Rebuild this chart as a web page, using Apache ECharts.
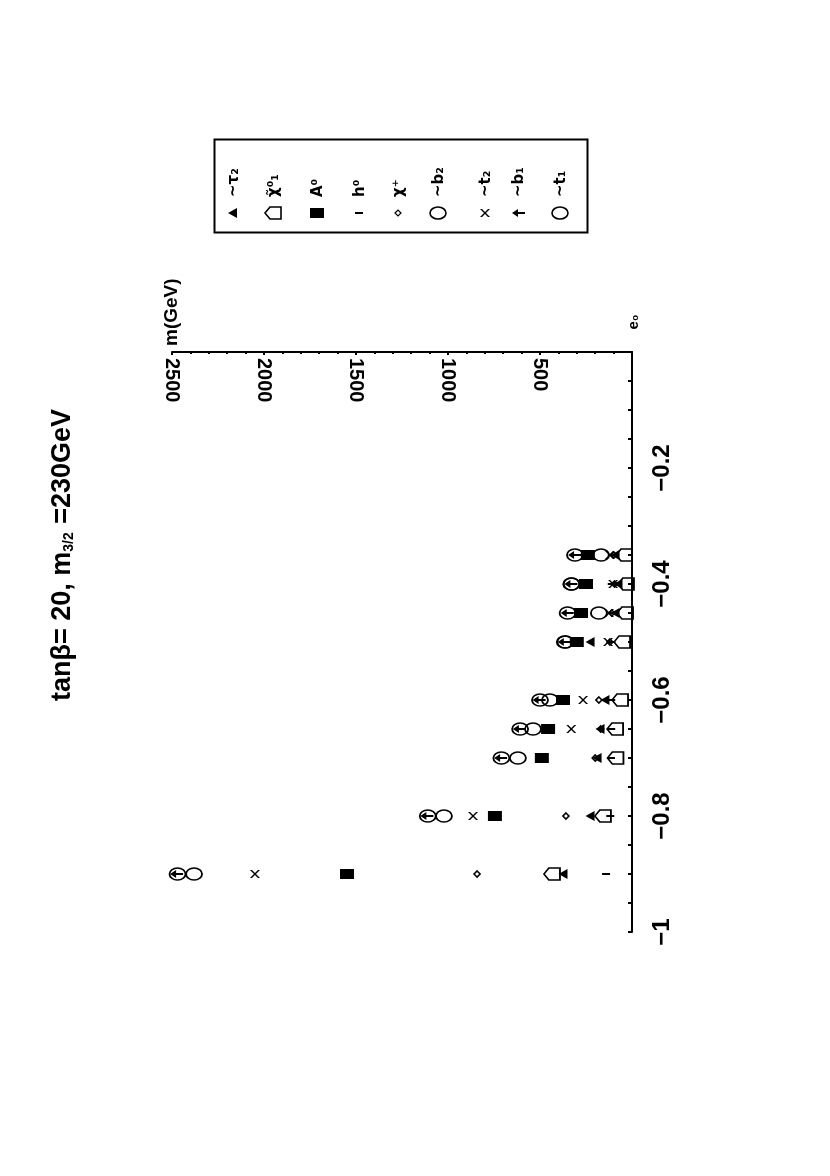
<!DOCTYPE html>
<html>
<head>
<meta charset="utf-8">
<script src="https://cdn.jsdelivr.net/npm/echarts@6/dist/echarts.min.js"></script>
<style>
html,body{margin:0;padding:0;background:#fff;}
#chart{width:830px;height:1176px;}
</style>
</head>
<body>
<div id="chart"></div>
<script>
// e0 values (vertical axis in the rotated picture)
const e0 = [-0.35, -0.40, -0.45, -0.50, -0.60, -0.65, -0.70, -0.80, -0.90];
// masses in GeV per species
const mSt1  = [310, 330, 350, 365, 500, 608, 710, 1110, 2470];
const mSb1  = [312, 332, 352, 368, 505, 612, 714, 1115, 2475];
const mSb2  = [168, 328, 180, 362, 446, 538, 620, 1022, 2380];
const mSt2  = [120, 103, 125, 130, 266, 330, 500, 864, 2049];
const mChp  = [100, 95, 110, 120, 180, 170, 200, 359, 842];
const mH0   = [110, 110, 111, 112, 113, 113, 114, 118, 141];
const mA0   = [240, 250, 277, 300, 375, 456, 490, 745, 1549];
const mChi0 = [43, 33, 38, 54, 65, 92, 90, 158, 435];
const mStau = [92, 76, 92, 228, 147, 174, 190, 228, 375];

const mTicks = [500, 1000, 1500, 2000, 2500];

// legend labels, in the order of the legend box (left to right in the picture)
const names = ['~\u03c4\u2082', '\u03c7\u0303\u2070\u2081', 'A\u2070', 'h\u2070', '\u03c7\u207a', '~b\u2082', '~t\u2082', '~b\u2081', '~t\u2081'];

const SYM = {
  stau: 'path://M0,5 L10,0 L10,10 Z',
  chi0: 'path://M0,6 L5,0 L16,0 L16,12 L5,12 Z',
  a0: 'rect',
  h0: 'rect',
  chp: 'diamond',
  sb2: 'circle',
  st2: 'path://M0,0 L2,0 L5,3 L8,0 L10,0 L6,4 L10,8 L8,8 L5,5 L2,8 L0,8 L4,4 Z',
  sb1: 'path://M0,4 L6,0 L6,3 L13,3 L13,5 L6,5 L6,8 Z',
  st1: 'circle'
};

function pts(arr){ return arr.map((m,i)=>[m, e0[i]]); }
function filled(name, data, sym, size){
  return {name, type:'scatter', data:pts(data), symbol:sym, symbolSize:size,
    itemStyle:{color:'#000', opacity:1}, z:3};
}
function open(name, data, sym, size){
  return {name, type:'scatter', data:pts(data), symbol:sym, symbolSize:size,
    itemStyle:{color:'rgba(0,0,0,0)', borderColor:'#000', borderWidth:1.6, opacity:1}, z:4};
}

const chart = echarts.init(document.getElementById('chart'), null, {renderer:'canvas'});
const FONT = "'Liberation Sans','Arial',sans-serif";

// legend drawn as graphics, rotated like the picture
const legendX = [233, 273, 317, 359, 398, 438, 485, 518, 560];
const legendSym = [
  {type:'polygon', shape:{points:[[-5,0],[4,-5],[4,5]]}, style:{fill:'#000'}},
  {type:'polygon', shape:{points:[[-8,0],[-3,-6],[8,-6],[8,6],[-3,6]]}, style:{fill:'none', stroke:'#000', lineWidth:1.6}},
  {type:'rect', shape:{x:-7,y:-5,width:14,height:10}, style:{fill:'#000'}},
  {type:'rect', shape:{x:-4,y:-1,width:8,height:2}, style:{fill:'#000'}},
  {type:'polygon', shape:{points:[[-3,0],[0,-3],[3,0],[0,3]]}, style:{fill:'none', stroke:'#000', lineWidth:1.2}},
  {type:'ellipse', shape:{cx:0,cy:0,rx:8,ry:6}, style:{fill:'none', stroke:'#000', lineWidth:1.6}},
  {type:'polygon', shape:{points:[[-5,-4],[-3,-4],[0,-1],[3,-4],[5,-4],[1,0],[5,4],[3,4],[0,1],[-3,4],[-5,4],[-1,0]]}, style:{fill:'#000'}},
  {type:'polygon', shape:{points:[[-6,0],[0,-4],[0,-1],[7,-1],[7,1],[0,1],[0,4]]}, style:{fill:'#000'}},
  {type:'ellipse', shape:{cx:0,cy:0,rx:8,ry:6}, style:{fill:'none', stroke:'#000', lineWidth:1.6}}
];
const graphics = [
  {type:'rect', left:212, top:137, shape:{width:373, height:93}, style:{fill:'none', stroke:'#000', lineWidth:2}},
  {type:'text', x:63, y:555, rotation:Math.PI/2,
    style:{text:'{a|tan\u03b2= 20, m}{s|3/2}{a| =230GeV}', align:'center', verticalAlign:'middle',
      rich:{a:{font:"bold 27px "+FONT, fill:'#000'}, s:{font:"bold 14px "+FONT, fill:'#000', verticalAlign:'bottom', padding:[12,1,0,0]}}}},
  {type:'text', x:172, y:346, rotation:Math.PI/2,
    style:{text:'m(GeV)', font:"bold 19px "+FONT, fill:'#000', align:'left', verticalAlign:'middle'}},
  {type:'text', x:634, y:322, rotation:Math.PI/2,
    style:{text:'e\u2080', font:"bold 15px "+FONT, fill:'#000', align:'center', verticalAlign:'middle'}}
];
legendX.forEach((x,i)=>{
  const s = Object.assign({}, legendSym[i], {x:x, y:213});
  graphics.push(s);
  graphics.push({type:'text', x:x+1, y:197, rotation:Math.PI/2,
    style:{text:names[i], font:"bold 15px 'DejaVu Sans',sans-serif", fill:'#000', align:'left', verticalAlign:'middle'}});
});

chart.setOption({
  animation:false,
  backgroundColor:'#fff',
  grid:{left:172, right:198, top:352, bottom:244},
  xAxis:{type:'value', min:0, max:2500, interval:500, inverse:true, position:'top',
    axisLine:{onZero:false, lineStyle:{color:'#000', width:2}},
    axisTick:{inside:true, length:3, lineStyle:{color:'#000', width:2}},
    minorTick:{show:true, splitNumber:5, length:2, lineStyle:{color:'#000', width:2}},
    splitLine:{show:false},
    axisLabel:{inside:true, rotate:90, margin:6, color:'#000', fontWeight:'bold', fontSize:20, fontFamily:FONT,
      formatter:v=> mTicks.indexOf(v)>=0 ? String(v) : ''}},
  yAxis:{type:'value', min:-1, max:0, interval:0.2, position:'right',
    axisLine:{onZero:false, lineStyle:{color:'#000', width:2}},
    axisTick:{inside:true, length:4, lineStyle:{color:'#000', width:2}},
    minorTick:{show:true, splitNumber:4, length:4, lineStyle:{color:'#000', width:2}},
    splitLine:{show:false},
    axisLabel:{rotate:90, margin:18, color:'#000', fontWeight:'bold', fontSize:24, fontFamily:FONT,
      formatter:v=> v===0 ? '' : ('\u2212' + String(Math.abs(+v.toFixed(1))))}},
  series:[
    filled(names[0], mStau, SYM.stau, [9,10]),
    open(names[1], mChi0, SYM.chi0, [16,12]),
    filled(names[2], mA0, SYM.a0, [14,10]),
    filled(names[3], mH0, SYM.h0, [8,2]),
    open(names[4], mChp, SYM.chp, [6,6]),
    open(names[5], mSb2, SYM.sb2, [16,12]),
    filled(names[6], mSt2, SYM.st2, [10,8]),
    filled(names[7], mSb1, SYM.sb1, [13,8]),
    open(names[8], mSt1, SYM.st1, [16,12])
  ],
  graphic:graphics
});
</script>
</body>
</html>
